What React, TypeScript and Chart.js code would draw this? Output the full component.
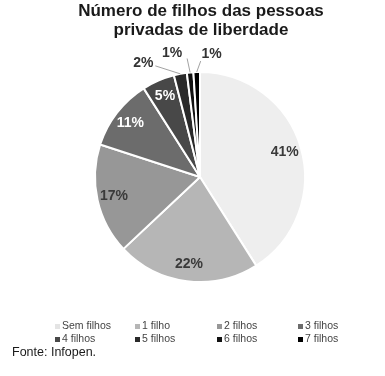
import React, { useEffect, useRef } from "react";
import { Chart, registerables } from "chart.js";

Chart.register(...registerables);

const titleLines = ["Número de filhos das pessoas", "privadas de liberdade"];
const categories = ["Sem filhos", "1 filho", "2 filhos", "3 filhos", "4 filhos", "5 filhos", "6 filhos", "7 filhos"];
const values = [41, 22, 17, 11, 5, 2, 1, 1];
const colors = ["#eeeeee", "#b6b6b6", "#979797", "#6c6c6c", "#484848", "#2a2a2a", "#121212", "#000000"];
const labelColors = ["#3a3a3a", "#3a3a3a", "#3a3a3a", "#ffffff", "#ffffff", "#333333", "#333333", "#333333"];
const sourceText = "Fonte: Infopen.";

// layout offsets for small outside labels (relative to arc outer midpoint)
const outsideLabel: Record<number, { dx: number; dy: number; lx: number; ly: number }> = {
  5: { dx: -37, dy: -11, lx: -25, ly: -8 },
  6: { dx: -18, dy: -19, lx: -3, ly: -14 },
  7: { dx: 15, dy: -18, lx: 4, ly: -11 },
};

const labelPlugin = {
  id: "sliceLabels",
  afterDatasetsDraw(chart: any) {
    const ctx = chart.ctx;
    const meta = chart.getDatasetMeta(0);
    ctx.save();
    ctx.font = "bold 14px 'Liberation Sans', Arial, sans-serif";
    ctx.textAlign = "center";
    ctx.textBaseline = "middle";
    meta.data.forEach((arc: any, i: number) => {
      const { x, y, startAngle, endAngle, outerRadius } = arc.getProps(["x", "y", "startAngle", "endAngle", "outerRadius"], true);
      const mid = (startAngle + endAngle) / 2;
      const text = values[i] + "%";
      const o = outsideLabel[i];
      if (o) {
        const px = x + Math.cos(mid) * outerRadius;
        const py = y + Math.sin(mid) * outerRadius;
        ctx.strokeStyle = "#8a8a8a";
        ctx.lineWidth = 0.8;
        ctx.beginPath();
        ctx.moveTo(px, py);
        ctx.lineTo(px + o.lx, py + o.ly);
        ctx.stroke();
        ctx.fillStyle = labelColors[i];
        ctx.fillText(text, px + o.dx, py + o.dy);
      } else {
        const r = outerRadius * 0.84;
        ctx.fillStyle = labelColors[i];
        ctx.fillText(text, x + Math.cos(mid) * r, y + Math.sin(mid) * r);
      }
    });
    ctx.restore();
  },
};

const textPlugin = {
  id: "textBlocks",
  afterDraw(chart: any) {
    const ctx = chart.ctx;
    ctx.save();
    // title
    ctx.font = "bold 17px 'Liberation Sans', Arial, sans-serif";
    ctx.fillStyle = "#1a1a1a";
    ctx.textAlign = "center";
    ctx.textBaseline = "middle";
    titleLines.forEach((t, i) => ctx.fillText(t, 201, 11 + i * 19));
    // legend
    ctx.font = "10.5px 'Liberation Sans', Arial, sans-serif";
    ctx.textAlign = "left";
    const colX = [57, 137, 219, 300];
    const rowY = [326, 339];
    categories.forEach((c, i) => {
      const cx = colX[i % 4];
      const cy = rowY[Math.floor(i / 4)];
      ctx.fillStyle = colors[i] === "#eeeeee" ? "#e4e4e4" : colors[i];
      ctx.fillRect(cx - 2, cy - 2, 5, 5);
      ctx.fillStyle = "#444444";
      ctx.fillText(c, cx + 5, cy + 0.5);
    });
    // source
    ctx.font = "12.5px 'Liberation Sans', Arial, sans-serif";
    ctx.fillStyle = "#1a1a1a";
    ctx.fillText(sourceText, 12, 353);
    ctx.restore();
  },
};

export default function App() {
  const ref = useRef<HTMLCanvasElement>(null);
  useEffect(() => {
    if (!ref.current) return;
    const chart = new Chart(ref.current, {
      type: "pie",
      data: {
        labels: categories,
        datasets: [
          {
            data: values,
            backgroundColor: colors,
            borderColor: "#ffffff",
            borderWidth: 2,
          },
        ],
      },
      options: {
        animation: false,
        responsive: false,
        maintainAspectRatio: false,
        layout: { padding: { top: 71, left: 94, right: 79, bottom: 93 } },
        plugins: {
          legend: { display: false },
          tooltip: { enabled: false },
          title: { display: false },
        },
      },
      plugins: [labelPlugin, textPlugin],
    });
    return () => chart.destroy();
  }, []);
  return (
    <div style={{ position: "absolute", left: 0, top: 0, width: 385, height: 376, background: "#fff" }}>
      <canvas ref={ref} width={385} height={376} style={{ width: 385, height: 376 }} />
    </div>
  );
}
